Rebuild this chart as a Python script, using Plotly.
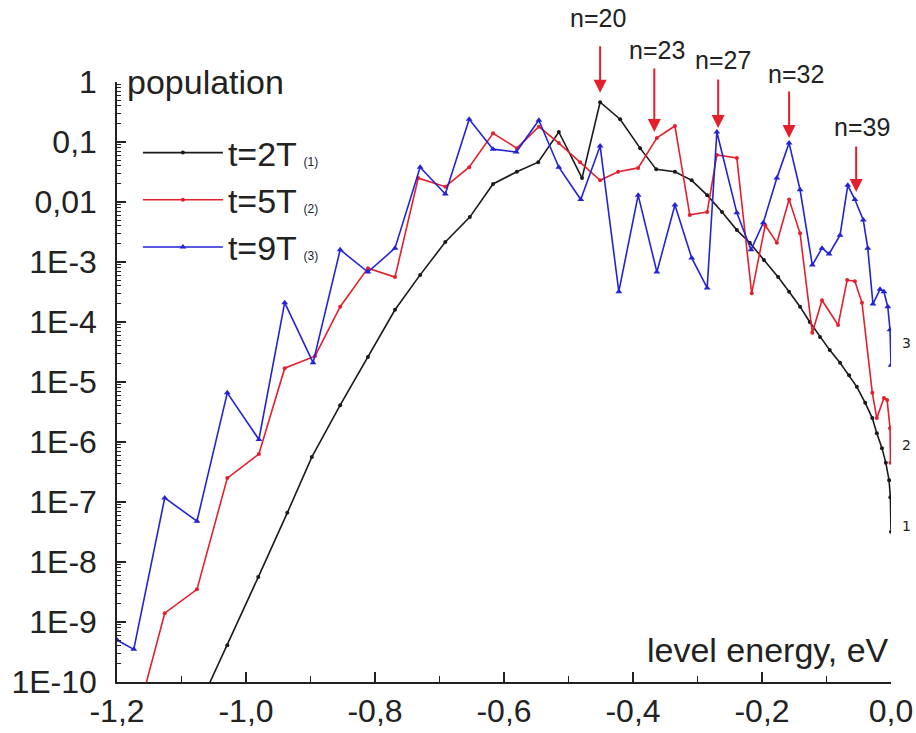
import plotly.graph_objects as go
import math

# ---- data (level energy, eV ; population) ----
E_2T = [-1.078, -1.029, -0.981, -0.936, -0.898, -0.854, -0.811, -0.769, -0.730, -0.691,
        -0.653, -0.617, -0.580, -0.547, -0.515, -0.479, -0.451, -0.420, -0.389, -0.364,
        -0.335, -0.309, -0.285, -0.262, -0.239, -0.219, -0.197, -0.175, -0.158, -0.141,
        -0.126, -0.110, -0.095, -0.079, -0.065, -0.053, -0.040, -0.029, -0.022, -0.014,
        -0.008, -0.003, -0.001, 0.0]
P_2T = [3.0e-11, 4.1e-10, 5.6e-9, 6.6e-8, 5.6e-7, 4.1e-6, 2.6e-5, 1.6e-4, 6.1e-4, 2.15e-3,
        5.6e-3, 0.020, 0.032, 0.046, 0.147, 0.025, 0.46, 0.24, 0.079, 0.035,
        0.032, 0.023, 0.013, 6.8e-3, 3.4e-3, 2.1e-3, 1.08e-3, 5.6e-4, 3.2e-4, 1.8e-4,
        1.0e-4, 5.6e-5, 3.4e-5, 2.1e-5, 1.3e-5, 8.3e-6, 4.5e-6, 2.5e-6, 1.4e-6, 7.9e-7,
        4.5e-7, 2.3e-7, 1.2e-7, 3.2e-8]

E_5T = [-1.171, -1.126, -1.076, -1.029, -0.980, -0.940, -0.893, -0.854, -0.811, -0.769,
        -0.733, -0.691, -0.654, -0.617, -0.580, -0.546, -0.515, -0.482, -0.451, -0.423,
        -0.392, -0.363, -0.335, -0.312, -0.285, -0.270, -0.239, -0.216, -0.195, -0.177,
        -0.158, -0.141, -0.122, -0.107, -0.082, -0.068, -0.056, -0.045, -0.029, -0.022,
        -0.011, -0.006, -0.0015, -0.0008]
P_5T = [2.1e-11, 1.4e-9, 3.5e-9, 2.5e-7, 6.3e-7, 1.7e-5, 2.7e-5, 1.8e-4, 7.9e-4, 5.6e-4,
        0.025, 0.018, 0.038, 0.14, 0.079, 0.18, 0.096, 0.046, 0.023, 0.032,
        0.037, 0.117, 0.185, 6.1e-3, 6.8e-3, 0.061, 0.054, 3.0e-4, 4.1e-3, 2.1e-3,
        0.011, 3.0e-3, 6.6e-5, 2.3e-4, 8.9e-5, 5.0e-4, 4.8e-4, 2.1e-4, 6.6e-6, 2.5e-6,
        5.4e-6, 5.0e-6, 1.7e-6, 4.5e-7]

E_9T = [-1.200, -1.174, -1.126, -1.076, -1.029, -0.980, -0.940, -0.896, -0.854, -0.811,
        -0.769, -0.730, -0.691, -0.654, -0.617, -0.581, -0.546, -0.515, -0.481, -0.451,
        -0.422, -0.392, -0.363, -0.335, -0.309, -0.285, -0.270, -0.239, -0.217, -0.198,
        -0.177, -0.158, -0.141, -0.122, -0.107, -0.096, -0.079, -0.067, -0.056, -0.043,
        -0.036, -0.028, -0.017, -0.011, -0.005, -0.0015, 0.0]
P_9T = [5.0e-10, 3.5e-10, 1.17e-7, 4.8e-8, 6.6e-6, 1.1e-6, 2.1e-4, 2.1e-5, 1.6e-3, 6.8e-4,
        1.7e-3, 0.038, 0.0136, 0.24, 0.076, 0.068, 0.23, 0.038, 0.011, 0.086,
        3.2e-4, 0.013, 6.8e-4, 8.9e-3, 1.17e-3, 3.7e-4, 0.147, 6.6e-3, 1.6e-3, 4.5e-3,
        0.025, 0.096, 0.016, 8.9e-4, 1.7e-3, 1.36e-3, 2.8e-3, 0.019, 0.011, 5.0e-3,
        1.7e-3, 2.0e-4, 3.5e-4, 3.2e-4, 1.8e-4, 7.4e-5, 1.9e-5]

series_names = ["t=2T", "t=5T", "t=9T"]
series_tags = ["(1)", "(2)", "(3)"]
end_labels = ["1", "2", "3"]

x_tickvals = [-1.2, -1.0, -0.8, -0.6, -0.4, -0.2, 0.0]
x_ticktext = ["-1,2", "-1,0", "-0,8", "-0,6", "-0,4", "-0,2", "0,0"]
y_tickvals = [1, 0.1, 0.01, 1e-3, 1e-4, 1e-5, 1e-6, 1e-7, 1e-8, 1e-9, 1e-10]
y_ticktext = ["1", "0,1", "0,01", "1E-3", "1E-4", "1E-5", "1E-6", "1E-7", "1E-8", "1E-9", "1E-10"]

# arrows marking levels n
arrow_n = [20, 23, 27, 32, 39]
arrow_E = [-0.451, -0.367, -0.268, -0.158, -0.054]
arrow_tip = [0.66, 0.147, 0.171, 0.117, 0.0147]

FONT = "Liberation Sans, Arial, sans-serif"
BLACK = "#1a1a1a"
RED = "#e3202c"
BLUE = "#2323d6"
AX = "#222"

fig = go.Figure()
styles = [
    dict(color=BLACK, symbol="circle", size=4),
    dict(color=RED, symbol="circle", size=4),
    dict(color=BLUE, symbol="triangle-up", size=6),
]
for E, P, name, tag, st in zip([E_2T, E_5T, E_9T], [P_2T, P_5T, P_9T],
                               series_names, series_tags, styles):
    fig.add_trace(go.Scatter(
        x=E, y=P, mode="lines+markers",
        name=f"{name}<span style='font-size:12px;color:#223'>  {tag}</span>",
        line=dict(color=st["color"], width=1.6),
        marker=dict(color=st["color"], symbol=st["symbol"], size=st["size"]),
    ))

# invisible trace on an overlay axis to carry the dense log minor ticks
fig.add_trace(go.Scatter(x=[-1.2], y=[1e-10], yaxis="y2", mode="markers",
                         marker=dict(opacity=0), showlegend=False, hoverinfo="skip"))

annotations = []
arrow_len = [48, 65, 50, 48, 47]
label_dx = [-2, 3, 5, 7, 6]
label_gap = [27, 17, 18, 16, 18]
for n, e, tip, L, dx, g in zip(arrow_n, arrow_E, arrow_tip, arrow_len, label_dx, label_gap):
    annotations.append(dict(x=e, y=math.log10(tip), xref="x", yref="y", text="",
                            showarrow=True, ax=0, ay=-L, arrowhead=2, arrowsize=1.3,
                            arrowwidth=2, arrowcolor=RED))
    annotations.append(dict(x=e, y=math.log10(tip), xref="x", yref="y", text=f"n={n}",
                            showarrow=True, ax=dx, ay=-(L + g), arrowwidth=0.1,
                            arrowcolor="rgba(0,0,0,0)",
                            font=dict(family=FONT, size=25, color=AX)))

end_shift = [6, 18, 22]
for lab, P, ys in zip(end_labels, [P_2T, P_5T, P_9T], end_shift):
    annotations.append(dict(x=0.0, y=math.log10(P[-1]), xref="x", yref="y", text=lab,
                            showarrow=False, xanchor="left", xshift=9, yshift=ys,
                            font=dict(family="DejaVu Sans, sans-serif", size=14, color=AX)))

annotations.append(dict(x=0.01, y=1.0, xref="paper", yref="paper", text="population",
                        showarrow=False, xanchor="left", yanchor="middle",
                        font=dict(family=FONT, size=34, color=AX)))
annotations.append(dict(x=1.0, y=0.053, xref="paper", yref="paper", text="level energy, eV",
                        showarrow=False, xanchor="right", yanchor="middle",
                        font=dict(family=FONT, size=34, color=AX)))

fig.update_layout(
    width=916, height=733,
    margin=dict(l=117, r=25, t=82, b=51, autoexpand=False),
    paper_bgcolor="white", plot_bgcolor="white",
    font=dict(family=FONT, size=33, color=AX),
    showlegend=True,
    legend=dict(x=0.027, y=0.93, xanchor="left", yanchor="top",
                bgcolor="rgba(0,0,0,0)", font=dict(family=FONT, size=34, color=AX),
                itemwidth=80, tracegroupgap=0),
    annotations=annotations,
    xaxis=dict(range=[-1.2, 0.0], tickmode="array", tickvals=x_tickvals, ticktext=x_ticktext,
               showline=True, linecolor=AX, linewidth=1.5, showgrid=False, zeroline=False,
               ticks="inside", ticklen=10, tickwidth=1.5, tickcolor=AX,
               minor=dict(dtick=0.1, tick0=0, ticks="inside", ticklen=6, tickcolor=AX, tickwidth=1.2,
                          showgrid=False),
               tickfont=dict(family=FONT, size=32, color=AX), ticklabelstandoff=0, automargin=False),
    yaxis=dict(type="log", range=[-10, 0], tickmode="array", tickvals=y_tickvals, ticktext=y_ticktext,
               showline=True, linecolor=AX, linewidth=1.5, showgrid=False, zeroline=False,
               ticks="inside", ticklen=9, tickwidth=1.5, tickcolor=AX,
               tickfont=dict(family=FONT, size=32, color=AX), ticklabelstandoff=12, automargin=False),
    yaxis2=dict(type="log", range=[-10, 0], overlaying="y", side="left", dtick="D1",
                showticklabels=False, ticks="inside", ticklen=4, tickwidth=1, tickcolor=AX,
                showline=False, showgrid=False, zeroline=False, automargin=False),
)

fig.write_html("out.html")
